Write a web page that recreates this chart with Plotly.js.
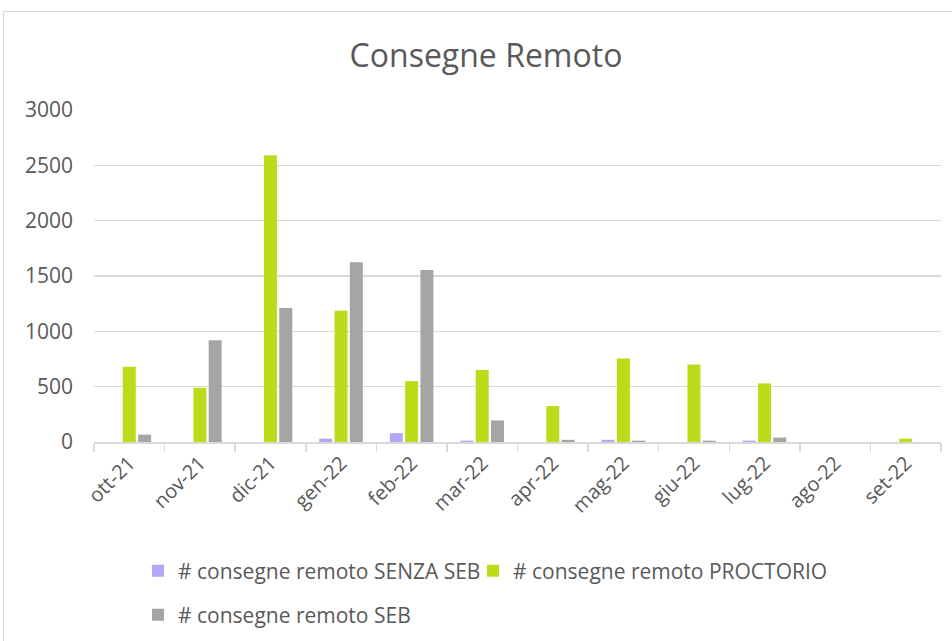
<!DOCTYPE html>
<html>
<head>
<meta charset="utf-8">
<script src="https://cdn.plot.ly/plotly-3.0.1.min.js"></script>
<style>
  html, body { margin:0; padding:0; background:#fff; overflow:hidden; }
  #chart { position:absolute; left:0; top:0; width:952px; height:641px; }
  #frame { position:absolute; left:3px; top:11px; width:1000px; height:1000px;
           border:1px solid #d9d9d9; pointer-events:none; box-sizing:border-box; }
</style>
</head>
<body>
<div id="chart"></div>
<div id="frame"></div>
<script>
const months = ['ott-21','nov-21','dic-21','gen-22','feb-22','mar-22','apr-22','mag-22','giu-22','lug-22','ago-22','set-22'];
const senzaSeb = [0, 0, 0, 30, 80, 12, 0, 20, 0, 12, 0, 0];
const proctorio = [680, 490, 2590, 1185, 550, 650, 325, 755, 700, 530, 0, 30];
const seb = [67, 920, 1210, 1625, 1555, 195, 20, 12, 12, 40, 0, 0];
const yTicks = [0, 500, 1000, 1500, 2000, 2500, 3000];

const FONT = 'Open Sans, Noto Sans, sans-serif';
const TXT = '#595959';

const traces = [
  {type:'bar', name:'# consegne remoto SENZA SEB', x:months, y:senzaSeb,
   marker:{color:'#B4A7F5'}, legend:'legend'},
  {type:'bar', name:'# consegne remoto PROCTORIO', x:months, y:proctorio,
   marker:{color:'#BEDB1A'}, legend:'legend3'},
  {type:'bar', name:'# consegne remoto SEB', x:months, y:seb,
   marker:{color:'#A5A5A5'}, legend:'legend2'}
];

const legFont = {family:FONT, size:21, color:TXT};
const layout = {
  width:952, height:641,
  paper_bgcolor:'rgba(0,0,0,0)', plot_bgcolor:'rgba(0,0,0,0)',
  margin:{l:94, r:11, t:110, b:199, autoexpand:false},
  font:{family:FONT, color:TXT, size:20},
  title:{text:'Consegne Remoto', font:{family:FONT, size:32, color:TXT},
         x:486/952, xanchor:'center', y:1-56/641, yanchor:'middle'},
  barmode:'group', bargap:0.35, bargroupgap:0.15,
  xaxis:{type:'category', showgrid:false, showline:true, linecolor:'#d9d9d9', linewidth:1.5,
         ticks:'outside', tickson:'boundaries', ticklen:8, tickcolor:'#d9d9d9', tickwidth:1.5,
         tickangle:-45, tickfont:{family:FONT, size:20, color:TXT}, fixedrange:true, automargin:false},
  yaxis:{range:[0,3000], tickvals:yTicks, ticktext:yTicks.map(String), showgrid:true,
         gridcolor:'#d9d9d9', gridwidth:1.5, zeroline:false, showline:false,
         ticklabelstandoff:20, tickfont:{family:FONT, size:21, color:TXT}, fixedrange:true, automargin:false},
  legend:{orientation:'h', x:(138-94)/847, xanchor:'left', y:(442-571)/332, yanchor:'middle',
          font:legFont, bgcolor:'rgba(0,0,0,0)'},
  legend3:{orientation:'h', x:(473-94)/847, xanchor:'left', y:(442-571)/332, yanchor:'middle',
          font:legFont, bgcolor:'rgba(0,0,0,0)'},
  legend2:{orientation:'h', x:(138-94)/847, xanchor:'left', y:(442-615)/332, yanchor:'middle',
          font:legFont, bgcolor:'rgba(0,0,0,0)'},
  showlegend:true
};

Plotly.newPlot('chart', traces, layout, {displayModeBar:false, staticPlot:true});
</script>
</body>
</html>
